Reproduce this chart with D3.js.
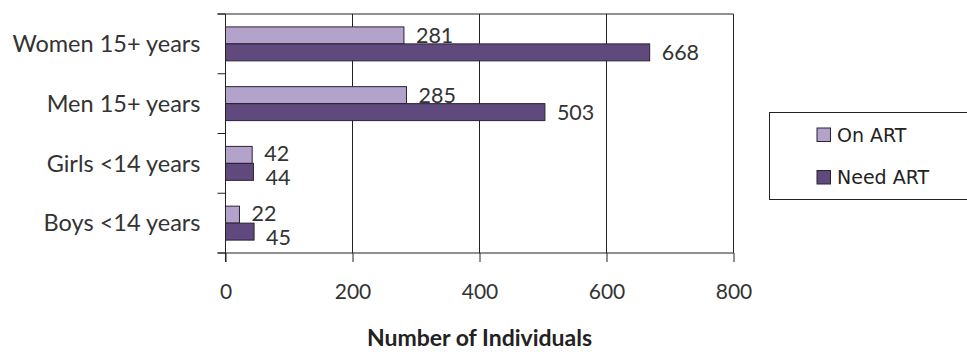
<!DOCTYPE html>
<html>
<head>
<meta charset="utf-8">
<script src="https://cdn.jsdelivr.net/npm/d3@7"></script>
<style>
  html, body { margin: 0; padding: 0; background: #ffffff; }
  svg { display: block; }
</style>
</head>
<body>
<div id="chart"></div>
<script>
// Antiretroviral therapy coverage by population group
const categories = ["Women 15+ years", "Men 15+ years", "Girls <14 years", "Boys <14 years"];
const seriesNames = ["On ART", "Need ART"];
const onArt = [281, 285, 42, 22];
const needArt = [668, 503, 44, 45];
const xTicks = [0, 200, 400, 600, 800];
const xTitle = "Number of Individuals";

const colors = { "On ART": "#b3a2c9", "Need ART": "#5f497d" };
const W = 967, H = 352;
const plot = { left: 225.5, right: 733.5, top: 14, bottom: 253 };
const mainFont = "Lato, 'Open Sans', sans-serif";
const textColor = "#333333";

const svg = d3.select("#chart").append("svg")
  .attr("width", W).attr("height", H);

const x = d3.scaleLinear().domain([0, 800]).range([plot.left, plot.right]);
const y = d3.scaleBand().domain(categories).range([plot.top, plot.bottom]).paddingInner(0).paddingOuter(0);
const ySub = d3.scaleBand().domain(seriesNames).range([0, y.bandwidth()]).paddingInner(0).paddingOuter(0.76);

const rows = categories.map((c, i) => ({ cat: c, values: [
  { key: "On ART", value: onArt[i] },
  { key: "Need ART", value: needArt[i] }
]}));

// vertical gridlines
svg.append("g").selectAll("line")
  .data(xTicks.slice(1))
  .join("line")
  .attr("x1", d => x(d)).attr("x2", d => x(d))
  .attr("y1", plot.top).attr("y2", plot.bottom)
  .attr("stroke", "#222").attr("stroke-width", 1);

// top border
svg.append("line")
  .attr("x1", plot.left - 8).attr("x2", plot.right)
  .attr("y1", plot.top).attr("y2", plot.top)
  .attr("stroke", "#222").attr("stroke-width", 1);

// bars
const groups = svg.append("g").selectAll("g")
  .data(rows).join("g")
  .attr("transform", d => `translate(0,${y(d.cat)})`);

groups.selectAll("rect")
  .data(d => d.values).join("rect")
  .attr("x", x(0))
  .attr("y", d => ySub(d.key))
  .attr("width", d => x(d.value) - x(0))
  .attr("height", ySub.bandwidth())
  .attr("fill", d => colors[d.key])
  .attr("stroke", "#2b2236").attr("stroke-width", 1);

// value labels; labels of short bar pairs are spread apart so they don't collide
groups.each(function(d) {
  const g = d3.select(this);
  const on = d.values[0], need = d.values[1];
  let yOn = ySub(on.key) + ySub.bandwidth() / 2;
  let yNeed = ySub(need.key) + ySub.bandwidth() / 2;
  if (Math.abs(x(on.value) - x(need.value)) < 40) {
    yOn -= 1.5;
    yNeed = Math.max(yNeed, yOn + 24.5);
  }
  [[on, yOn], [need, yNeed]].forEach(([v, yy]) => {
    g.append("text")
      .attr("x", x(v.value) + 12)
      .attr("y", yy)
      .attr("dy", "0.35em")
      .attr("font-family", mainFont)
      .attr("font-size", 21.5)
      .attr("fill", textColor)
      .text(v.value);
  });
});

// y axis
const yAxis = svg.append("g")
  .attr("transform", `translate(${plot.left},0)`);
yAxis.append("line")
  .attr("x1", 0).attr("x2", 0).attr("y1", plot.top).attr("y2", plot.bottom + 9)
  .attr("stroke", "#222");
yAxis.selectAll(".ytick")
  .data(categories.map(c => y(c)).concat([plot.bottom]))
  .join("line")
  .attr("x1", -8).attr("x2", 0)
  .attr("y1", d => d).attr("y2", d => d)
  .attr("stroke", "#222");
yAxis.selectAll(".ylab")
  .data(categories).join("text")
  .attr("x", -25)
  .attr("y", d => y(d) + y.bandwidth() / 2)
  .attr("dy", "0.35em")
  .attr("text-anchor", "end")
  .attr("font-family", mainFont)
  .attr("font-size", 23.5)
  .attr("fill", textColor)
  .text(d => d);

// x axis
const xAxis = svg.append("g")
  .attr("transform", `translate(0,${plot.bottom})`)
  .call(d3.axisBottom(x).tickValues(xTicks).tickSize(9).tickPadding(22).tickSizeOuter(0));
xAxis.select(".domain").attr("stroke", "#222").attr("d", `M${plot.left - 8},0H${plot.right}`);
xAxis.selectAll(".tick line").attr("stroke", "#222");
xAxis.selectAll(".tick text")
  .attr("font-family", mainFont)
  .attr("font-size", 21)
  .attr("fill", textColor);

// axis title
svg.append("text")
  .attr("x", (plot.left + plot.right) / 2)
  .attr("y", 338)
  .attr("dy", "0.35em")
  .attr("text-anchor", "middle")
  .attr("font-family", mainFont)
  .attr("font-weight", "bold")
  .attr("font-size", 23)
  .attr("fill", "#222")
  .text(xTitle);

// legend
const legend = svg.append("g");
legend.append("rect")
  .attr("x", 769.5).attr("y", 112.5)
  .attr("width", 220).attr("height", 87)
  .attr("fill", "#fff").attr("stroke", "#222");
const legItems = legend.selectAll(".item")
  .data(seriesNames).join("g")
  .attr("transform", (d, i) => `translate(817,${128 + i * 42.5})`);
legItems.append("rect")
  .attr("width", 13.5).attr("height", 13.5)
  .attr("fill", d => colors[d]).attr("stroke", "#2b2236");
legItems.append("text")
  .attr("x", 20).attr("y", 7)
  .attr("dy", "0.36em")
  .attr("font-family", "'DejaVu Sans', sans-serif")
  .attr("font-size", 19)
  .attr("fill", "#222")
  .text(d => d);
</script>
</body>
</html>
